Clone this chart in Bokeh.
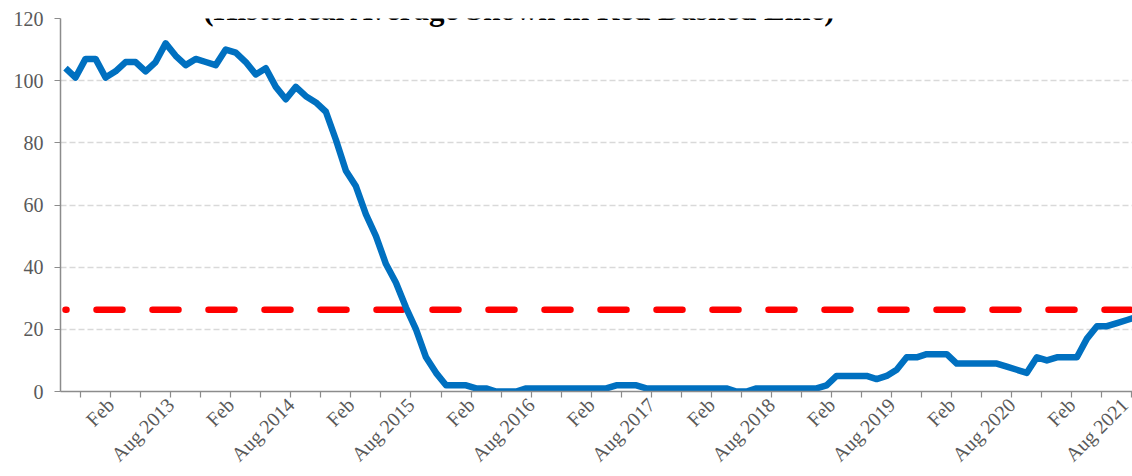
import math
import pandas as pd
from bokeh.plotting import figure
from bokeh.models import FixedTicker, Label
from bokeh.embed import file_html
from bokeh.resources import INLINE

# ---------------- data ----------------
months = [d.strftime("%Y-%m") for d in pd.date_range("2012-09-01", "2021-08-01", freq="MS")]
values = [
    104, 101, 107, 107, 101, 103, 106, 106, 103, 106,   # Sep 2012 - Jun 2013
    112, 108, 105, 107, 106, 105, 110, 109, 106, 102,   # Jul 2013 - Apr 2014
    104, 98, 94, 98, 95, 93, 90, 81, 71, 66,            # May 2014 - Feb 2015
    57, 50, 41, 35, 27, 20, 11, 6, 2, 2,                # Mar 2015 - Dec 2015
    2, 1, 1, 0, 0, 0, 1, 1, 1, 1,                       # Jan 2016 - Oct 2016
    1, 1, 1, 1, 1, 2, 2, 2, 1, 1,                       # Nov 2016 - Aug 2017
    1, 1, 1, 1, 1, 1, 1, 0, 0, 1,                       # Sep 2017 - Jun 2018
    1, 1, 1, 1, 1, 1, 2, 5, 5, 5,                       # Jul 2018 - Apr 2019
    5, 4, 5, 7, 11, 11, 12, 12, 12, 9,                  # May 2019 - Feb 2020
    9, 9, 9, 9, 8, 7, 6, 11, 10, 11,                    # Mar 2020 - Dec 2020
    11, 11, 17, 21, 21, 22, 23, 24,                     # Jan 2021 - Aug 2021
]
historical_average = 26.3
title_text = "(Historical Average Shown in Red Dashed Line)"
y_ticks = [0, 20, 40, 60, 80, 100, 120]
tick_months = [d.strftime("%Y-%m") for d in pd.date_range("2012-11-01", "2021-08-01", freq="3MS")]


def month_pos(m):
    """months since Nov 2012 (tick at the start of a month)"""
    y, mo = int(m[:4]), int(m[5:7])
    return (y - 2012) * 12 + (mo - 11)


def tick_label(m):
    y, mo = int(m[:4]), int(m[5:7])
    if mo == 2:
        return "Feb"
    if mo == 8:
        return f"Aug {y}"
    return ""


x = [month_pos(m) + 0.5 for m in months]          # points sit mid-month
ticks = [month_pos(m) for m in tick_months]
overrides = {t: tick_label(m) for t, m in zip(ticks, tick_months)}

# ---------------- figure ----------------
SERIF = "Liberation Serif"
p = figure(width=1132, height=476, output_backend="svg", toolbar_location=None,
           x_range=(x[0] - 0.5, ticks[-1] + 0.05), y_range=(0, 120),
           min_border_left=60, min_border_right=0, min_border_top=18, min_border_bottom=83)
p.outline_line_color = None
p.background_fill_color = "white"
p.border_fill_color = "white"

# grid
p.xgrid.visible = False
p.ygrid.ticker = FixedTicker(ticks=y_ticks)
p.ygrid.grid_line_color = "#d9d9d9"
p.ygrid.grid_line_width = 1.5
p.ygrid.grid_line_dash = "6 3"

# axes
for ax in (p.xaxis[0], p.yaxis[0]):
    ax.axis_line_color = "#8c8c8c"
    ax.axis_line_width = 1.5
    ax.major_tick_line_color = "#8c8c8c"
    ax.major_tick_line_width = 1.2
    ax.major_tick_in = 0
    ax.major_tick_out = 6
    ax.minor_tick_line_color = None
    ax.major_label_text_font = SERIF
    ax.major_label_text_font_size = "20px"
    ax.major_label_text_color = "#595959"

p.yaxis.ticker = FixedTicker(ticks=y_ticks)
p.yaxis.major_label_standoff = 11

p.xaxis.ticker = FixedTicker(ticks=ticks)
p.xaxis.major_label_overrides = overrides
p.xaxis.major_label_orientation = math.pi / 4
p.xaxis.major_label_standoff = 4

# series
p.line(x, [historical_average] * len(x), line_color="#ff0000", line_width=6.5,
       line_dash="26 30", line_dash_offset=25, line_cap="round")
p.line(x, values, line_color="#0070c0", line_width=6.5, line_join="round")

# clipped title (only lower part visible, like the reference)
p.add_layout(Label(x=43.86, y=122.88, text=title_text, text_align="center",
                   text_baseline="alphabetic", text_font=SERIF, text_font_style="bold",
                   text_font_size="31px", text_color="#000000"))

open("out.html", "w").write(file_html(p, INLINE))
